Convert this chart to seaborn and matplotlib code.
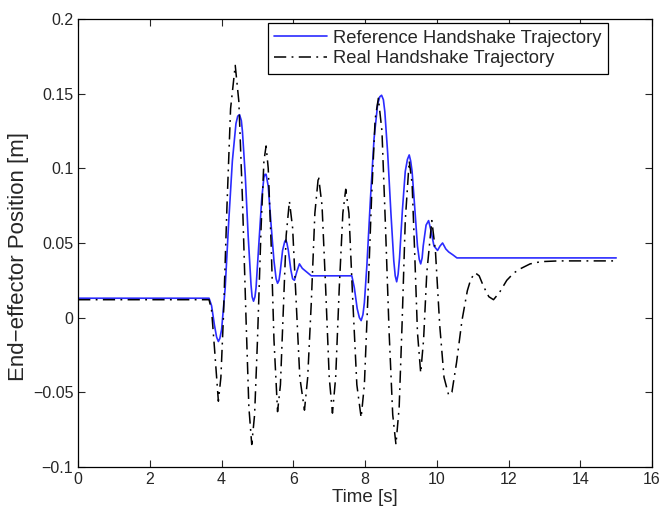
import numpy as np
import pandas as pd
import matplotlib
matplotlib.use("Agg")
import matplotlib.pyplot as plt
import seaborn as sns

# reference trajectory (blue)
ref_t = [0.0, 3.65, 3.72, 3.80, 3.86, 3.91, 3.95, 4.00, 4.10, 4.20, 4.30, 4.40, 4.45,
         4.50, 4.55, 4.58, 4.66, 4.74, 4.82, 4.85, 4.89, 4.93, 4.96, 5.04, 5.12, 5.18,
         5.21, 5.24, 5.30, 5.38, 5.46, 5.52, 5.56, 5.60, 5.63, 5.70, 5.76, 5.79, 5.82,
         5.86, 5.93, 5.98, 6.03, 6.10, 6.17, 6.25, 6.35, 6.50, 7.63, 7.70, 7.78, 7.84,
         7.89, 7.94, 7.98, 8.05, 8.15, 8.25, 8.35, 8.41, 8.46, 8.51, 8.55, 8.63, 8.72,
         8.80, 8.84, 8.88, 8.92, 8.96, 9.04, 9.12, 9.18, 9.23, 9.27, 9.31, 9.38, 9.46,
         9.51, 9.55, 9.59, 9.62, 9.70, 9.77, 9.84, 9.92, 10.02, 10.09, 10.16, 10.25,
         10.33, 10.45, 10.56, 15.0]
ref_y = [0.013, 0.013, 0.008, -0.005, -0.013, -0.016, -0.014, -0.008, 0.020, 0.065,
         0.105, 0.130, 0.135, 0.136, 0.132, 0.125, 0.095, 0.055, 0.022, 0.014, 0.011,
         0.014, 0.020, 0.050, 0.080, 0.094, 0.096, 0.096, 0.088, 0.062, 0.038, 0.026,
         0.023, 0.025, 0.030, 0.045, 0.051, 0.052, 0.050, 0.045, 0.032, 0.026, 0.025,
         0.031, 0.036, 0.033, 0.031, 0.028, 0.028, 0.020, 0.006, 0.000, -0.002, 0.002,
         0.010, 0.035, 0.080, 0.120, 0.143, 0.148, 0.149, 0.146, 0.138, 0.110, 0.070,
         0.038, 0.028, 0.024, 0.029, 0.040, 0.072, 0.098, 0.106, 0.109, 0.105, 0.098,
         0.075, 0.048, 0.039, 0.036, 0.040, 0.048, 0.062, 0.065, 0.058, 0.048, 0.045,
         0.048, 0.050, 0.046, 0.044, 0.042, 0.040, 0.040]

# real trajectory (black dash-dot)
real_t = [0.0, 3.65, 3.72, 3.80, 3.91, 3.98, 4.05, 4.15, 4.25, 4.38, 4.48, 4.58, 4.68,
          4.76, 4.84, 4.92, 5.00, 5.10, 5.18, 5.24, 5.30, 5.38, 5.46, 5.56, 5.64, 5.72,
          5.80, 5.89, 5.98, 6.08, 6.18, 6.31, 6.40, 6.50, 6.60, 6.70, 6.80, 6.90, 7.00,
          7.09, 7.18, 7.28, 7.38, 7.46, 7.55, 7.65, 7.77, 7.89, 7.98, 8.08, 8.18, 8.28,
          8.37, 8.47, 8.57, 8.67, 8.77, 8.86, 8.95, 9.03, 9.12, 9.23, 9.31, 9.38, 9.46,
          9.55, 9.63, 9.72, 9.86, 9.96, 10.08, 10.20, 10.33, 10.42, 10.55, 10.70, 10.85,
          10.95, 11.07, 11.18, 11.30, 11.45, 11.58, 11.75, 11.95, 12.15, 12.35, 12.60,
          12.90, 13.40, 15.0]
real_y = [0.012, 0.012, 0.005, -0.020, -0.056, -0.040, 0.000, 0.075, 0.140, 0.169, 0.145,
          0.080, 0.000, -0.060, -0.085, -0.065, -0.015, 0.060, 0.105, 0.115, 0.100, 0.050,
          -0.015, -0.063, -0.045, 0.005, 0.055, 0.078, 0.060, 0.010, -0.040, -0.062,
          -0.040, 0.010, 0.070, 0.095, 0.075, 0.020, -0.040, -0.064, -0.040, 0.020, 0.070,
          0.086, 0.070, 0.015, -0.045, -0.067, -0.045, 0.015, 0.080, 0.133, 0.147, 0.125,
          0.060, -0.010, -0.065, -0.085, -0.060, -0.005, 0.065, 0.105, 0.090, 0.045,
          -0.010, -0.037, -0.015, 0.030, 0.065, 0.045, -0.005, -0.040, -0.052, -0.050,
          -0.030, -0.002, 0.018, 0.026, 0.030, 0.028, 0.021, 0.014, 0.012, 0.017, 0.025,
          0.030, 0.033, 0.036, 0.0375, 0.038, 0.038]

x_ticks = [0, 2, 4, 6, 8, 10, 12, 14, 16]
y_ticks = [-0.1, -0.05, 0, 0.05, 0.1, 0.15, 0.2]
y_tick_labels = ["\u22120.1", "\u22120.05", "0", "0.05", "0.1", "0.15", "0.2"]

sns.set_style("ticks")
plt.rcParams["font.family"] = ["Liberation Sans", "DejaVu Sans"]

ref = pd.DataFrame({"t": ref_t, "y": ref_y})
real = pd.DataFrame({"t": real_t, "y": real_y})

fig = plt.figure(figsize=(6.62, 5.17), dpi=100)
ax = fig.add_axes([0.118, 0.097, 0.867, 0.866])

sns.lineplot(data=ref, x="t", y="y", ax=ax, color="#2b2bff", linewidth=1.2,
             label="Reference Handshake Trajectory", sort=False)
sns.lineplot(data=real, x="t", y="y", ax=ax, color="black", linewidth=1.1,
             linestyle=(0, (8, 3.5, 1.2, 3.5)),
             label="Real Handshake Trajectory", sort=False)

ax.set_xlim(0, 16)
ax.set_ylim(-0.1, 0.2)
ax.set_xticks(x_ticks)
ax.set_yticks(y_ticks)
ax.set_yticklabels(y_tick_labels)
ax.tick_params(direction="in", top=True, right=True, labelsize=11.5, length=5, width=0.8)
for s in ax.spines.values():
    s.set_linewidth(0.9)
    s.set_color("black")

ax.set_xlabel("Time [s]", fontsize=13.5, labelpad=2)
ax.set_ylabel("End\u2212effector Position [m]", fontsize=16, labelpad=0)
ax.yaxis.set_label_coords(-0.085, 0.47)

leg = ax.legend(loc="upper right", bbox_to_anchor=(0.923, 0.991), fontsize=13.2,
                fancybox=False, edgecolor="black", framealpha=1, borderpad=0.35,
                borderaxespad=0, handlelength=2.85, handletextpad=0.35,
                labelspacing=0.2)
leg.get_frame().set_linewidth(0.9)

fig.savefig("out.png", dpi=100)
